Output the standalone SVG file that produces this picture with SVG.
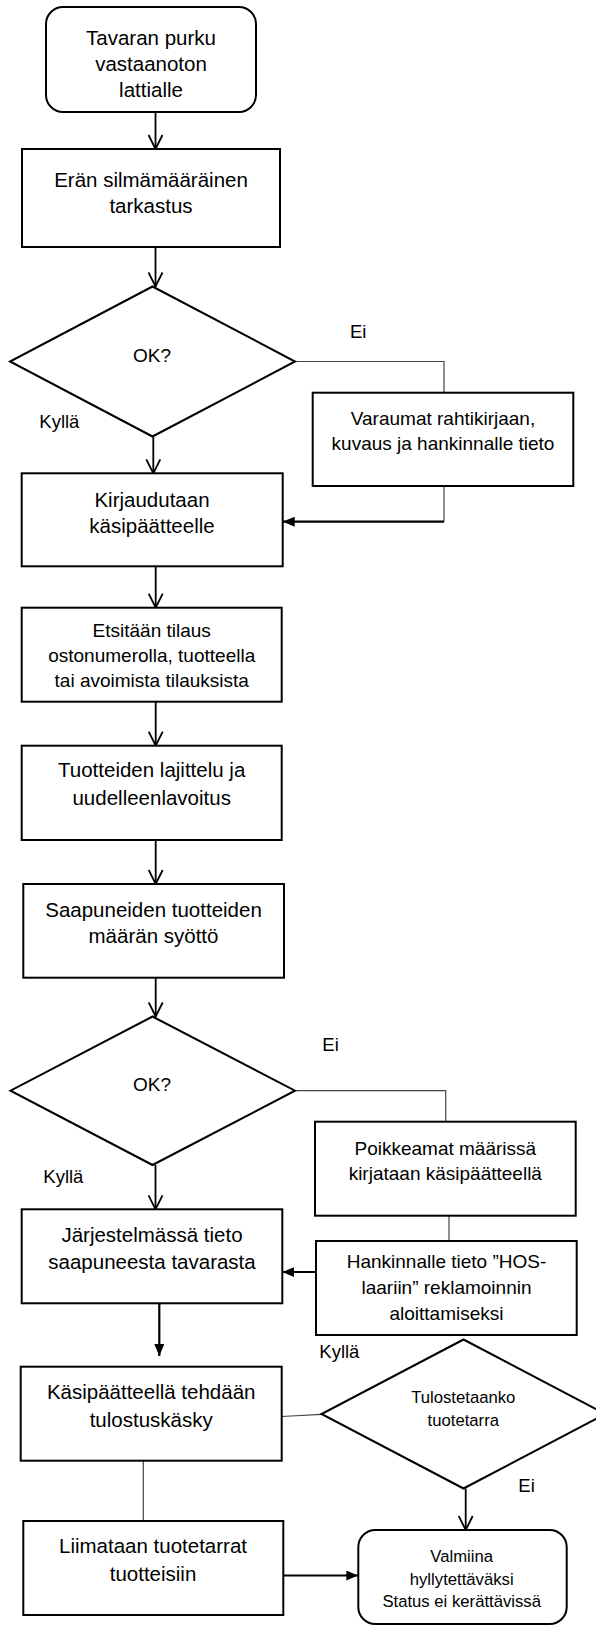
<svg xmlns="http://www.w3.org/2000/svg" width="596" height="1628" viewBox="0 0 596 1628">
<style>
text{font-family:"Liberation Sans",Arial,sans-serif;fill:#000;text-anchor:middle}
.big{font-size:20.5px}
.mid{font-size:19px}
.sm{font-size:16.7px}
.lbl{font-size:18.5px;text-anchor:start}
.box{fill:#fff;stroke:#000;stroke-width:2}
.c{fill:none;stroke:#000;stroke-width:1.8}
.thin{fill:none;stroke:#444;stroke-width:1.2}
.thick{fill:none;stroke:#000;stroke-width:2.2}
</style>
<defs>
<marker id="open" viewBox="0 0 16 16" refX="15" refY="8" markerWidth="16" markerHeight="16" markerUnits="userSpaceOnUse" orient="auto"><path d="M1,1 L15,8 L1,15" fill="none" stroke="#000" stroke-width="1.8"/></marker>
<marker id="fill" viewBox="0 0 12 10" refX="12" refY="5" markerWidth="12" markerHeight="10" markerUnits="userSpaceOnUse" orient="auto"><path d="M0,0 L12,5 L0,10 z" fill="#000"/></marker>
</defs>
<rect width="596" height="1628" fill="#fff"/>

<g id="connectors">
<path class="c" d="M155.5,112 V149" marker-end="url(#open)"/>
<path class="c" d="M155.5,247 V286.5" marker-end="url(#open)"/>
<path class="thin" d="M295,361.5 H444 V392.7"/>
<path class="thin" d="M444,486 V521.7"/>
<path class="thick" d="M444,521.7 H282.7" marker-end="url(#fill)"/>
<path class="c" d="M153.3,436.5 V473.3" marker-end="url(#open)"/>
<path class="c" d="M155.7,566.3 V607.7" marker-end="url(#open)"/>
<path class="c" d="M155.7,701.7 V745.7" marker-end="url(#open)"/>
<path class="c" d="M155.7,840 V884" marker-end="url(#open)"/>
<path class="c" d="M155.7,977.7 V1016.5" marker-end="url(#open)"/>
<path class="thin" d="M295,1090.7 H445.7 V1121.7"/>
<path class="thin" d="M449,1215.7 V1241"/>
<path class="thick" d="M316,1272 H282.3" marker-end="url(#fill)"/>
<path class="c" d="M155.5,1165 V1209.3" marker-end="url(#open)"/>
<path class="thick" d="M159.3,1303.3 V1356" marker-end="url(#fill)"/>
<path class="thin" d="M281.7,1416.5 L321.7,1414.3"/>
<path class="thin" d="M143.3,1460.7 V1521"/>
<path class="thick" d="M283.3,1575.5 H358.3" marker-end="url(#fill)"/>
<path class="c" d="M465.7,1488.5 V1530" marker-end="url(#open)"/>
</g>

<g id="n-start">
<rect class="box" x="46" y="7" width="210" height="105" rx="17"/>
<text class="big" x="151" y="45">Tavaran purku</text>
<text class="big" x="151" y="71">vastaanoton</text>
<text class="big" x="151" y="97">lattialle</text>
</g>

<g id="n-tarkastus">
<rect class="box" x="22" y="149" width="258" height="98"/>
<text class="big" x="151" y="187">Erän silmämääräinen</text>
<text class="big" x="151" y="212.5">tarkastus</text>
</g>

<g id="n-ok1">
<polygon class="box" points="152.5,286.5 295,361.5 152.5,436.5 10,361.5"/>
<text class="mid" x="152" y="361.5">OK?</text>
</g>

<g id="n-varaumat">
<rect class="box" x="312.7" y="392.7" width="260.6" height="93.3"/>
<text class="mid" x="443" y="425">Varaumat rahtikirjaan,</text>
<text class="mid" x="443" y="450">kuvaus ja hankinnalle tieto</text>
</g>

<g id="n-kirjaudutaan">
<rect class="box" x="21.7" y="473.3" width="261" height="93"/>
<text class="big" x="152" y="506.7">Kirjaudutaan</text>
<text class="big" x="152" y="533.3">käsipäätteelle</text>
</g>

<g id="n-etsitaan">
<rect class="box" x="21.7" y="607.7" width="260" height="94"/>
<text class="mid" x="151.7" y="636.5">Etsitään tilaus</text>
<text class="mid" x="151.7" y="661.5">ostonumerolla, tuotteella</text>
<text class="mid" x="151.7" y="686.5">tai avoimista tilauksista</text>
</g>

<g id="n-lajittelu">
<rect class="box" x="21.7" y="745.7" width="260" height="94.3"/>
<text class="big" x="151.7" y="776.5">Tuotteiden lajittelu ja</text>
<text class="big" x="151.7" y="805">uudelleenlavoitus</text>
</g>

<g id="n-saapuneiden">
<rect class="box" x="23.3" y="884" width="260.7" height="93.7"/>
<text class="big" x="153.5" y="916.7">Saapuneiden tuotteiden</text>
<text class="big" x="153.5" y="943.3">määrän syöttö</text>
</g>

<g id="n-ok2">
<polygon class="box" points="152.5,1016.5 295,1090.7 152.5,1165 10.5,1090.7"/>
<text class="mid" x="152" y="1090.5">OK?</text>
</g>

<g id="n-poikkeamat">
<rect class="box" x="315" y="1121.7" width="260.7" height="94"/>
<text class="mid" x="445.3" y="1155">Poikkeamat määrissä</text>
<text class="mid" x="445.3" y="1180">kirjataan käsipäätteellä</text>
</g>

<g id="n-hankinnalle">
<rect class="box" x="316" y="1241" width="260.7" height="94"/>
<text class="mid" x="446.5" y="1268.3">Hankinnalle tieto ”HOS-</text>
<text class="mid" x="446.5" y="1294.3">laariin” reklamoinnin</text>
<text class="mid" x="446.5" y="1320.3">aloittamiseksi</text>
</g>

<g id="n-jarjestelma">
<rect class="box" x="21.7" y="1209.3" width="260.6" height="94"/>
<text class="big" x="152" y="1241.7">Järjestelmässä tieto</text>
<text class="big" x="152" y="1269">saapuneesta tavarasta</text>
</g>

<g id="n-tulostuskasky">
<rect class="box" x="20.7" y="1366.7" width="261" height="94"/>
<text class="big" x="151.2" y="1399.3">Käsipäätteellä tehdään</text>
<text class="big" x="151.2" y="1426.7">tulostuskäsky</text>
</g>

<g id="n-tulostetaanko">
<polygon class="box" points="463.5,1339.5 605.5,1414 463.5,1488.5 321.5,1414"/>
<text class="sm" x="463.3" y="1403.3">Tulostetaanko</text>
<text class="sm" x="463.3" y="1426">tuotetarra</text>
</g>

<g id="n-liimataan">
<rect class="box" x="23.3" y="1521" width="260" height="94"/>
<text class="big" x="153" y="1553.3">Liimataan tuotetarrat</text>
<text class="big" x="153" y="1581">tuotteisiin</text>
</g>

<g id="n-valmiina">
<rect class="box" x="358.3" y="1530" width="208.4" height="94" rx="17"/>
<text class="sm" x="461.7" y="1561.7">Valmiina</text>
<text class="sm" x="461.7" y="1585">hyllytettäväksi</text>
<text class="sm" x="461.7" y="1606.7">Status ei kerättävissä</text>
</g>

<g id="labels">
<text class="lbl" x="350" y="338.3">Ei</text>
<text class="lbl" x="39.3" y="428.3">Kyllä</text>
<text class="lbl" x="322.3" y="1050.7">Ei</text>
<text class="lbl" x="43.3" y="1183.3">Kyllä</text>
<text class="lbl" x="319.3" y="1358.3">Kyllä</text>
<text class="lbl" x="518.3" y="1491.7">Ei</text>
</g>
</svg>
